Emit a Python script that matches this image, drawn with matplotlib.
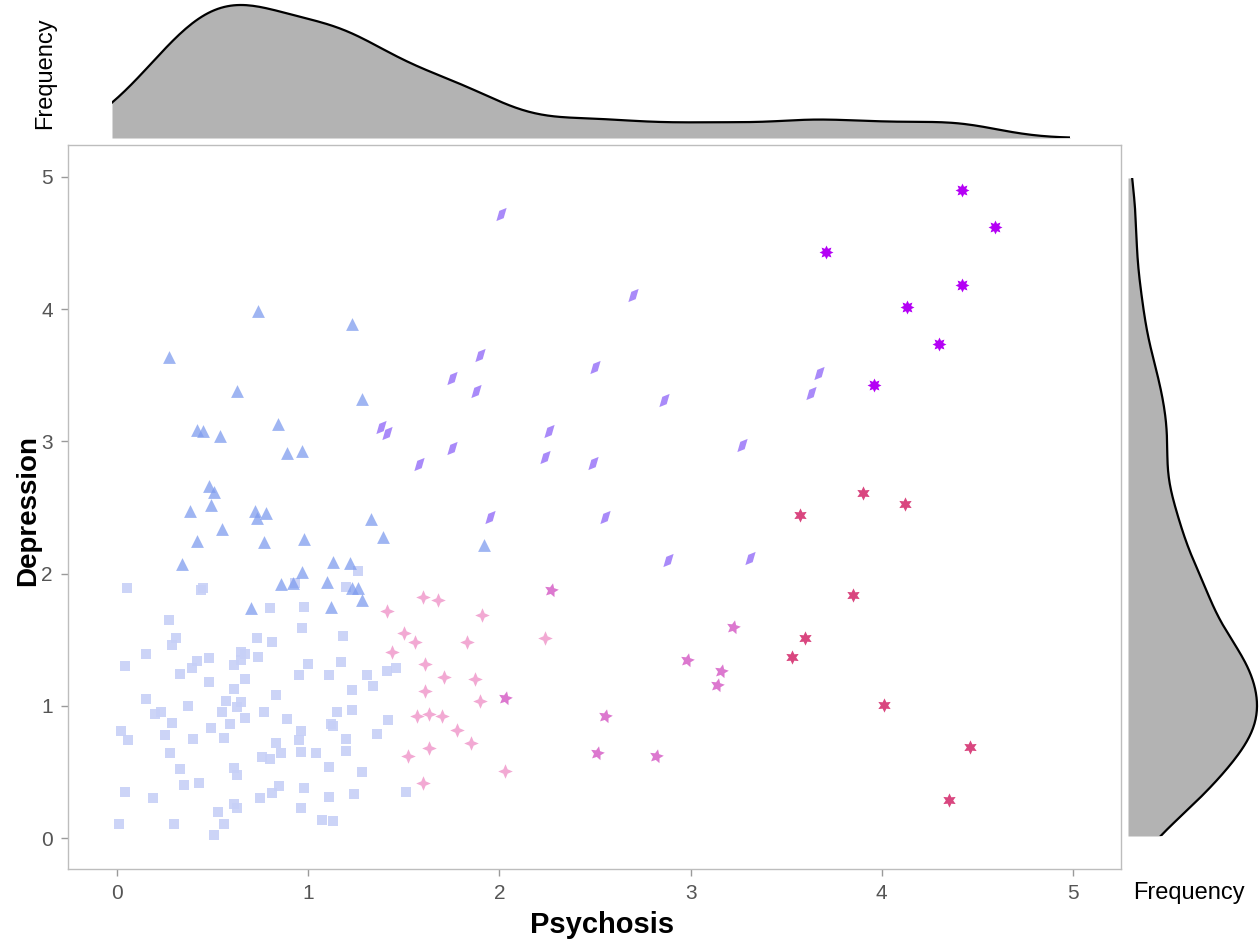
import numpy as np
import matplotlib
matplotlib.use('Agg')
import matplotlib.pyplot as plt

plt.rcParams['font.family'] = ['Liberation Sans', 'DejaVu Sans']

#-----------------------------------------------------------------------------------------#
# data (Psychosis, Depression) per group

sq_x = [0.05, 0.44, 0.45, 0.27, 0.31, 0.29, 0.15, 0.04, 0.42, 0.39, 0.48, 0.33, 0.48, 0.61,
        0.65, 0.67, 0.65, 0.74, 0.73, 0.81, 0.80, 0.98, 0.97, 1.18, 1.00, 1.17, 0.95, 1.11,
        1.31, 1.41, 1.46, 1.34, 1.23, 1.26, 1.20, 0.67, 0.61, 0.15, 0.37, 0.57, 0.65, 0.63,
        0.55, 0.20, 0.23, 0.29, 0.59, 0.67, 0.77, 0.83, 0.89, 0.02, 0.06, 0.25, 0.40, 0.49,
        0.56, 0.83, 0.96, 0.95, 1.15, 1.23, 1.12, 1.13, 1.20, 1.36, 1.42, 0.28, 0.76, 0.80,
        0.86, 0.96, 1.04, 1.20, 0.33, 0.61, 0.63, 1.11, 1.28, 0.35, 0.43, 0.04, 0.19, 0.85,
        0.81, 0.98, 0.75, 1.11, 1.24, 1.51, 0.61, 0.63, 0.53, 0.96, 0.01, 0.30, 0.56, 1.07,
        1.13, 0.51, 0.93]
sq_y = [1.89, 1.88, 1.89, 1.65, 1.51, 1.46, 1.39, 1.30, 1.34, 1.29, 1.36, 1.24, 1.18, 1.31,
        1.41, 1.39, 1.35, 1.37, 1.51, 1.48, 1.74, 1.75, 1.59, 1.53, 1.32, 1.33, 1.23, 1.23,
        1.23, 1.26, 1.29, 1.15, 1.12, 2.02, 1.90, 1.20, 1.13, 1.05, 1.00, 1.04, 1.03, 0.99,
        0.95, 0.94, 0.95, 0.87, 0.86, 0.91, 0.95, 1.08, 0.90, 0.81, 0.74, 0.78, 0.75, 0.83,
        0.76, 0.72, 0.81, 0.74, 0.95, 0.97, 0.86, 0.85, 0.75, 0.79, 0.89, 0.64, 0.61, 0.60,
        0.64, 0.65, 0.64, 0.66, 0.52, 0.53, 0.48, 0.54, 0.50, 0.40, 0.42, 0.35, 0.30, 0.39,
        0.34, 0.38, 0.30, 0.31, 0.33, 0.35, 0.26, 0.23, 0.20, 0.23, 0.11, 0.11, 0.11, 0.14,
        0.13, 0.02, 1.93]

tri_x = [0.74, 1.23, 0.27, 0.63, 1.28, 0.42, 0.45, 0.54, 0.84, 0.89, 0.97, 0.48, 0.51, 0.38,
         0.49, 0.72, 0.73, 0.78, 0.55, 0.42, 0.77, 0.98, 1.33, 1.39, 0.34, 1.13, 1.22, 0.97,
         0.86, 0.92, 1.10, 1.23, 1.26, 1.28, 0.70, 1.12, 1.92]
tri_y = [3.99, 3.89, 3.64, 3.38, 3.32, 3.09, 3.08, 3.04, 3.13, 2.91, 2.93, 2.66, 2.62, 2.47,
         2.52, 2.47, 2.42, 2.46, 2.34, 2.25, 2.24, 2.26, 2.41, 2.28, 2.07, 2.09, 2.08, 2.01,
         1.92, 1.93, 1.94, 1.89, 1.89, 1.80, 1.74, 1.75, 2.22]

pink_x = [1.60, 1.68, 1.41, 1.91, 1.50, 1.56, 1.44, 1.83, 2.24, 1.61, 1.71, 1.87, 1.61, 1.90,
          1.57, 1.63, 1.70, 1.78, 1.85, 1.52, 1.63, 2.03, 1.60]
pink_y = [1.82, 1.80, 1.72, 1.69, 1.55, 1.48, 1.41, 1.48, 1.51, 1.32, 1.22, 1.20, 1.11, 1.04,
          0.92, 0.94, 0.92, 0.82, 0.72, 0.62, 0.68, 0.51, 0.42]

orchid_x = [2.27, 2.98, 2.03, 2.55, 2.51, 2.82, 3.22, 3.16, 3.14]
orchid_y = [1.88, 1.35, 1.06, 0.92, 0.64, 0.62, 1.60, 1.26, 1.16]

crimson_x = [3.90, 4.12, 3.57, 3.85, 3.60, 3.53, 4.01, 4.46, 4.35]
crimson_y = [2.61, 2.53, 2.44, 1.84, 1.51, 1.37, 1.01, 0.69, 0.29]

para_x = [2.01, 2.70, 1.90, 2.50, 1.75, 1.88, 2.86, 1.38, 1.41, 2.26, 3.27, 1.75, 1.58, 2.24,
          2.49, 1.95, 2.55, 2.88, 3.31, 3.67, 3.63]
para_y = [4.72, 4.11, 3.65, 3.56, 3.48, 3.38, 3.31, 3.11, 3.06, 3.08, 2.97, 2.95, 2.83, 2.88,
          2.84, 2.43, 2.43, 2.10, 2.12, 3.52, 3.37]

purple_x = [4.42, 4.59, 3.71, 4.42, 4.13, 4.30, 3.96]
purple_y = [4.90, 4.62, 4.43, 4.18, 4.02, 3.74, 3.43]

#-----------------------------------------------------------------------------------------#

def star(n, inner, rot=0.0):
    ang = np.linspace(0, 2 * np.pi, 2 * n, endpoint=False) + np.pi / 2 + np.deg2rad(rot)
    r = np.where(np.arange(2 * n) % 2 == 0, 1.0, inner)
    return np.column_stack([r * np.cos(ang), r * np.sin(ang)])

def kde(vals, grid, scale=0.68):
    vals = np.asarray(vals)
    n = len(vals)
    q1, q3 = np.percentile(vals, [25, 75])
    bw = scale * 1.06 * min(vals.std(ddof=1), (q3 - q1) / 1.34) * n ** -0.2
    z = (grid[:, None] - vals[None, :]) / bw
    return np.exp(-0.5 * z**2).sum(axis=1) / (n * bw * np.sqrt(2 * np.pi))

para = np.array([(-0.7, -0.9), (-0.3, 0.5), (0.7, 0.9), (0.3, -0.5)])

groups = [
    (sq_x, sq_y, 's', 62, '#c7d0f7', 0.9),
    (tri_x, tri_y, '^', 85, '#7f9cee', 0.75),
    (pink_x, pink_y, star(4, 0.42), 110, '#f2a9d3', 1.0),
    (orchid_x, orchid_y, star(5, 0.48, -12), 110, '#dc78cf', 1.0),
    (crimson_x, crimson_y, star(6, 0.52), 105, '#d9467f', 1.0),
    (para_x, para_y, para, 90, '#a98af9', 1.0),
    (purple_x, purple_y, star(8, 0.58), 100, '#b400f5', 1.0),
]

W, H = 1259, 943
fig = plt.figure(figsize=(W / 100, H / 100), dpi=100)

# main scatter
ax = fig.add_axes([68 / W, 1 - 869 / H, (1121 - 68) / W, (869 - 145) / H])
for gx, gy, mk, s, col, a in groups:
    ax.scatter(gx, gy, marker=mk, s=s, c=col, alpha=a, linewidths=0, zorder=3)
ax.set_xlim(-0.256, 5.251)
ax.set_ylim(-0.234, 5.242)
ax.set_xticks(range(6))
ax.set_yticks(range(6))
for sp in ax.spines.values():
    sp.set_color('#bdbdbd')
    sp.set_linewidth(1.0)
ax.tick_params(direction='out', length=5, width=1, color='#9a9a9a',
               labelsize=15, labelcolor='#555555', pad=6)
fig.text(602 / W, 1 - 925 / H, 'Psychosis', ha='center', va='center',
         fontsize=21, fontweight='bold')
fig.text(28 / W, 1 - 511 / H, 'Depression', ha='center', va='center',
         rotation=90, fontsize=20, fontweight='bold')

all_x = np.concatenate([g[0] for g in groups])
all_y = np.concatenate([g[1] for g in groups])
grid = np.linspace(0, 5, 300)

# top marginal
dx = kde(all_x, grid)
axt = fig.add_axes([112 / W, 1 - 138 / H, (1070 - 112) / W, 138 / H])
axt.fill_between(grid, 0, dx, color='#b3b3b3', linewidth=0)
axt.plot(grid, dx, color='black', lw=1.6)
axt.set_xlim(0, 5)
axt.set_ylim(0, dx.max() * 138 / 133)
axt.axis('off')
fig.text(45 / W, 1 - 73 / H, 'Frequency', ha='center', va='center', rotation=90, fontsize=17)

# right marginal
dy = kde(all_y, grid)
axr = fig.add_axes([1128 / W, 1 - 836 / H, (W - 1128) / W, (836 - 178) / H])
axr.fill_betweenx(grid, 0, dy, color='#b3b3b3', linewidth=0)
axr.plot(dy, grid, color='black', lw=1.6)
axr.set_ylim(0, 5)
axr.set_xlim(0, dy.max() * 131 / 129)
axr.axis('off')
fig.text(1189 / W, 1 - 893 / H, 'Frequency', ha='center', va='center', fontsize=17)

fig.savefig('out.png', dpi=100)
